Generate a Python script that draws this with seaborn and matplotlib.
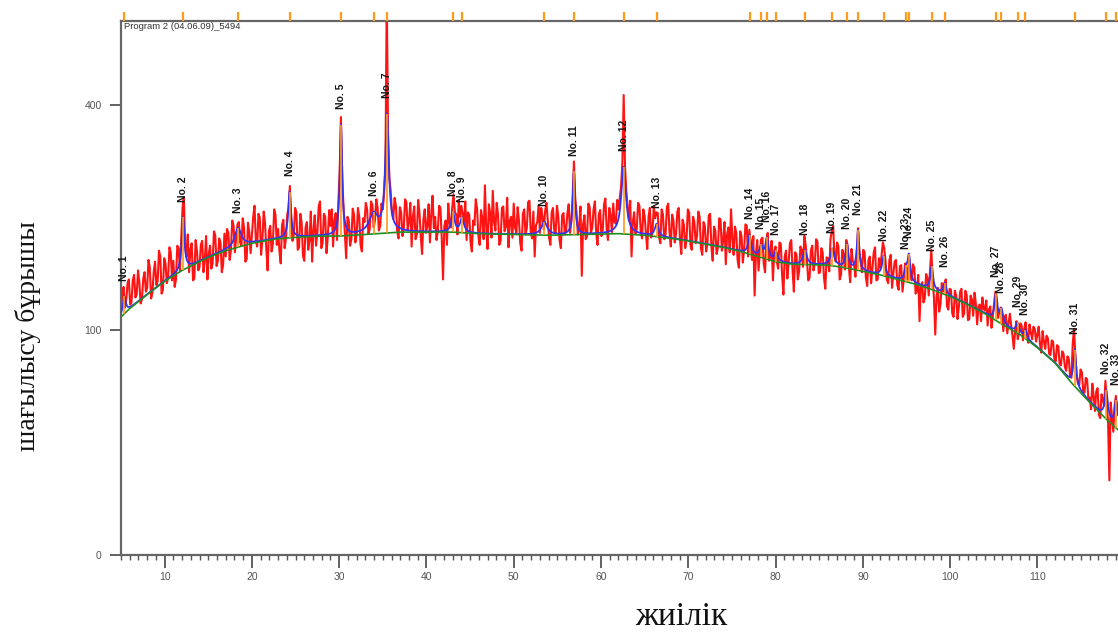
import numpy as np
import pandas as pd
import matplotlib
matplotlib.use("Agg")
import matplotlib.pyplot as plt
import matplotlib.transforms as mtransforms
from matplotlib.ticker import MultipleLocator, NullLocator
import seaborn as sns

# ---- measured scan (counts at a fixed 2-theta step, 20 points = 3 deg per row) ----
scan_start = 5.0
scan_step = 0.15
counts = [
    118, 135, 142, 121, 128, 146, 150, 124, 126, 149, 155, 131, 134, 160, 147, 125, 129, 151, 158, 137,
    141, 172, 163, 130, 136, 158, 170, 144, 148, 183, 176, 135, 139, 174, 168, 146, 152, 187, 181, 149,
    171, 142, 150, 189, 186, 160, 198, 238, 253, 190, 176, 203, 158, 185, 192, 149, 151, 196, 183, 160,
    164, 190, 195, 158, 172, 201, 150, 178, 189, 162, 168, 207, 202, 165, 171, 198, 193, 158, 166, 204,
    176, 210, 205, 172, 184, 221, 214, 181, 198, 216, 219, 193, 189, 224, 211, 170, 173, 218, 206, 180,
    203, 226, 241, 195, 188, 230, 225, 178, 196, 233, 218, 185, 160, 207, 214, 182, 191, 236, 229, 190,
    210, 183, 168, 215, 222, 186, 198, 229, 238, 269, 224, 195, 203, 238, 232, 184, 187, 230, 218, 177,
    171, 212, 219, 184, 196, 233, 170, 208, 228, 189, 205, 240, 247, 186, 192, 230, 226, 180, 201, 235,
    214, 236, 188, 222, 231, 196, 245, 288, 379, 281, 238, 205, 174, 226, 221, 189, 197, 237, 229, 193,
    203, 238, 226, 190, 182, 224, 219, 245, 236, 204, 210, 247, 242, 212, 221, 250, 238, 208, 214, 244,
    236, 259, 296, 620, 352, 281, 262, 231, 223, 252, 241, 207, 198, 239, 232, 201, 211, 250, 246, 209,
    219, 245, 188, 226, 240, 197, 203, 249, 231, 200, 179, 222, 236, 205, 214, 243, 193, 230, 255, 211,
    226, 196, 207, 241, 238, 199, 150, 214, 221, 190, 244, 218, 212, 238, 257, 233, 229, 203, 248, 226,
    241, 229, 218, 247, 196, 232, 229, 194, 182, 221, 215, 250, 237, 201, 190, 235, 224, 197, 270, 212,
    185, 243, 231, 199, 262, 219, 208, 245, 229, 190, 195, 238, 240, 207, 213, 252, 187, 221, 226, 199,
    244, 212, 205, 239, 221, 192, 183, 230, 236, 203, 211, 246, 248, 206, 198, 233, 176, 215, 219, 242,
    205, 238, 226, 209, 234, 245, 221, 199, 190, 232, 238, 207, 204, 241, 227, 196, 186, 228, 231, 203,
    208, 231, 243, 205, 219, 254, 306, 250, 232, 203, 214, 240, 154, 216, 228, 197, 201, 244, 239, 205,
    212, 236, 247, 205, 190, 229, 235, 201, 209, 243, 251, 210, 196, 238, 228, 206, 244, 219, 217, 249,
    236, 252, 268, 305, 418, 298, 262, 240, 221, 248, 176, 219, 232, 204, 210, 245, 241, 207, 198, 236,
    227, 204, 185, 226, 238, 199, 206, 240, 224, 232, 231, 200, 192, 236, 229, 197, 203, 239, 244, 206,
    188, 229, 221, 193, 204, 233, 238, 197, 179, 222, 215, 186, 197, 236, 232, 190, 184, 226, 219, 192,
    201, 233, 226, 186, 178, 219, 214, 182, 193, 228, 230, 188, 171, 213, 208, 179, 187, 224, 222, 183,
    196, 219, 167, 203, 212, 181, 236, 198, 178, 213, 205, 172, 163, 207, 201, 169, 184, 216, 214, 176,
    209, 190, 172, 201, 133, 178, 196, 160, 181, 197, 199, 167, 158, 194, 205, 171, 176, 195, 149, 183,
    188, 170, 162, 193, 191, 155, 134, 176, 183, 151, 169, 192, 196, 160, 137, 181, 178, 150, 159, 188,
    184, 164, 201, 190, 171, 149, 152, 183, 189, 160, 168, 197, 194, 157, 158, 186, 181, 152, 140, 175,
    174, 159, 198, 207, 214, 176, 170, 193, 188, 150, 155, 184, 179, 161, 196, 190, 164, 147, 185, 171,
    167, 153, 178, 211, 182, 171, 158, 184, 181, 152, 143, 172, 176, 146, 162, 181, 187, 149, 150, 174,
    163, 178, 193, 186, 171, 150, 146, 172, 178, 141, 157, 170, 172, 144, 139, 165, 166, 137, 152, 168,
    162, 150, 176, 158, 149, 167, 163, 135, 138, 155, 108, 141, 147, 126, 130, 156, 152, 133, 160, 184,
    150, 131, 96, 132, 141, 117, 124, 146, 137, 144, 150, 122, 119, 140, 139, 115, 112, 138, 133, 110,
    121, 137, 140, 112, 115, 138, 134, 109, 110, 133, 129, 113, 136, 125, 105, 122, 124, 108, 131, 120,
    118, 128, 104, 119, 122, 102, 113, 126, 137, 124, 111, 117, 121, 115, 99, 112, 114, 97, 106, 115,
    104, 95, 84, 99, 108, 92, 97, 106, 104, 91, 101, 107, 96, 89, 105, 98, 92, 103, 101, 90,
    96, 103, 88, 81, 99, 90, 84, 95, 93, 80, 79, 91, 90, 76, 74, 87, 86, 72, 71, 82,
    80, 70, 67, 78, 76, 63, 62, 88, 101, 79, 64, 58, 57, 68, 66, 53, 52, 62, 61, 48,
    49, 42, 58, 50, 41, 53, 55, 39, 37, 51, 48, 44, 60, 47, 35, 11, 46, 38, 30, 44,
    50, 41,
]

# ---- refined background ----
bg_angle = [5, 6, 7, 8, 9, 10, 11, 12, 13, 14, 15, 16, 17, 18, 19, 20, 21, 22, 23, 24,
            26, 28, 30, 33, 37, 43, 46, 50, 54, 58, 62, 65, 68, 70, 72, 74, 76, 78, 80,
            82, 86, 88, 90, 92, 94, 96, 98, 100, 102, 104, 106, 108, 110, 112, 114, 116,
            118, 119.5]
bg_counts = [112, 120, 127, 134, 141, 148, 154, 160, 165, 170, 175, 179, 183, 186, 189,
             192, 194, 196, 197.5, 198.5, 200, 201, 201, 203, 206, 206, 204, 203, 202, 203,
             204, 202, 198, 195, 191, 187, 182, 176, 170, 167, 166, 163, 159, 155, 150,
             145, 139, 132, 124, 115, 105, 96, 85, 73, 58, 46, 36, 30]

# ---- peak list (position, net height, FWHM) ----
peak_no = list(range(1, 34))
peak_pos = [5.38, 12.11, 18.41, 24.32, 30.21, 33.94, 35.48, 43.04, 44.07, 53.51, 56.90,
            62.59, 66.38, 77.03, 78.35, 79.01, 80.06, 83.36, 86.52, 88.19, 89.45, 92.38,
            94.96, 95.28, 97.89, 99.38, 105.26, 105.89, 107.73, 108.64, 114.28, 117.89,
            119.03]
peak_height = [17, 65, 24, 62, 164, 25, 177, 26, 19, 17, 88, 94, 16, 23, 13, 25, 12, 17,
               20, 27, 48, 22, 12, 29, 25, 12, 26, 13, 9, 7, 27, 17, 15]
peak_fwhm = [0.4, 0.35, 0.9, 0.35, 0.3, 1.2, 0.45, 0.4, 0.5, 0.8, 0.3, 0.6, 0.5, 0.4, 0.4,
             0.4, 0.4, 0.5, 0.5, 0.35, 0.3, 0.4, 0.4, 0.35, 0.35, 0.4, 0.35, 0.4, 0.4, 0.4,
             0.35, 0.4, 0.4]

x_ticks = [10, 20, 30, 40, 50, 60, 70, 80, 90, 100, 110]
y_ticks = [0, 100, 400]
sample_name = "Program 2 (04.06.09)_5494"
x_label = "жиілік"
y_label = "шағылысу бұрышы"

X_MIN, X_MAX = 5.0, 119.24
Y_MAX = 564

# ---- derived curves ----
angle_obs = scan_start + scan_step * np.arange(len(counts))
obs = pd.DataFrame({"angle": angle_obs, "counts": counts})

theta = np.linspace(X_MIN, X_MAX, 6000)
bg_fine = np.interp(theta, bg_angle, bg_counts)
profile = bg_fine.copy()
for p, h, w in zip(peak_pos, peak_height, peak_fwhm):
    profile += h / (1.0 + ((theta - p) / (w / 2.0)) ** 2)
fit = pd.DataFrame({"angle": theta, "counts": profile})
bg = pd.DataFrame({"angle": bg_angle, "counts": bg_counts})

peak_bg = np.interp(peak_pos, bg_angle, bg_counts)
peak_top = np.interp(peak_pos, theta, profile)

# ---- figure ----
sns.set_style("ticks")
plt.rcParams["font.family"] = ["Liberation Sans", "DejaVu Sans"]

fig = plt.figure(figsize=(11.18, 6.33), dpi=100)
ax = fig.add_axes([121 / 1118, 1 - 555 / 633, 1 - 121 / 1118, (555 - 20.7) / 633])

ax.set_yscale("function", functions=(lambda v: np.sqrt(np.clip(v, 0, None)), np.square))

sns.lineplot(data=obs, x="angle", y="counts", ax=ax, color="#ff0000", lw=1.5,
             alpha=0.92, zorder=2, estimator=None, sort=False)
sns.lineplot(data=fit, x="angle", y="counts", ax=ax, color="#3434f0", lw=1.3,
             zorder=3, estimator=None, sort=False)
sns.lineplot(data=bg, x="angle", y="counts", ax=ax, color="#1f8f1f", lw=1.2,
             zorder=4, estimator=None, sort=False)
ax.vlines(peak_pos, peak_bg, peak_top, color="#ff9a1a", lw=1.2, zorder=5)

# reference stick markers above the frame
top_tr = mtransforms.blended_transform_factory(ax.transData, ax.transAxes)
ax.vlines(peak_pos, 1.0, 1.016, transform=top_tr, color="#ff9a1a", lw=1.6,
          clip_on=False, zorder=6)

# peak labels
for n, p, t in zip(peak_no, peak_pos, peak_top):
    ax.annotate(f"No. {n}", xy=(p, t), xytext=(0, 11), textcoords="offset points",
                rotation=90, ha="center", va="bottom", fontsize=7.5, fontweight="bold",
                color="#151515",
                family=["Liberation Sans Narrow", "Liberation Sans", "DejaVu Sans"],
                annotation_clip=False, zorder=7)

ax.text(0.003, 0.997, sample_name, transform=ax.transAxes, ha="left", va="top",
        fontsize=6.8, color="#333333")

ax.set_xlim(X_MIN, X_MAX)
ax.set_ylim(0, Y_MAX)
ax.set_xticks(x_ticks)
ax.xaxis.set_minor_locator(MultipleLocator(1))
ax.set_yticks(y_ticks)
ax.yaxis.set_minor_locator(NullLocator())

ax.tick_params(axis="x", which="major", direction="out", length=9, width=1.3,
               color="#555555", labelsize=7.5, labelcolor="#555555", pad=3)
ax.tick_params(axis="x", which="minor", direction="out", length=3.5, width=1.0,
               color="#555555")
ax.tick_params(axis="y", which="major", direction="out", length=8, width=1.3,
               color="#555555", labelsize=7.5, labelcolor="#555555", pad=6)

for side in ("left", "top", "bottom"):
    ax.spines[side].set_color("#666666")
    ax.spines[side].set_linewidth(1.6)
ax.spines["right"].set_visible(False)

ax.set_xlabel(x_label, family=["Liberation Serif"], fontsize=24, color="#111111",
              ha="center", va="center")
ax.xaxis.set_label_coords((681 - 121) / 997, (555 - 617) / 534.3)
ax.set_ylabel(y_label, family=["Liberation Serif"], fontsize=20, color="#111111",
              ha="center", va="center")
ax.yaxis.set_label_coords((28 - 121) / 997, (555 - 336) / 534.3)

fig.savefig("out.png", dpi=100)
